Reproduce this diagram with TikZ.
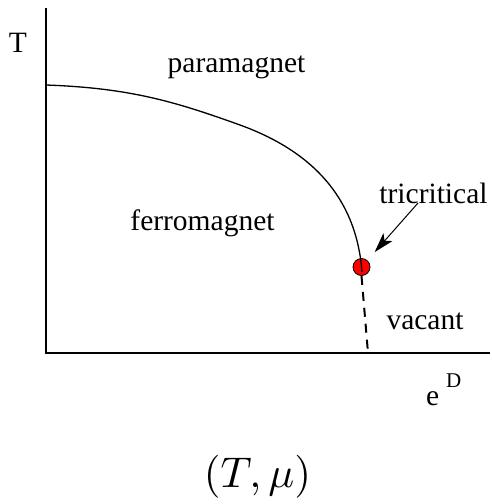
\documentclass[tikz,border=0pt]{standalone}
\usepackage{fontspec}
\setmainfont{Liberation Serif}
\usetikzlibrary{arrows.meta,positioning}

\begin{document}
\begin{tikzpicture}[x=1pt, y=-1pt,
    lbl/.style={font=\fontsize{29.5}{32}\selectfont, inner sep=0pt, anchor=base},
    axis/.style={line width=1.5pt},
    dot/.style={circle, draw, fill=red, line width=0.8pt, minimum size=17pt, inner sep=0pt}
]
    \useasboundingbox (0,0) rectangle (492,504);

    % Axes
    \coordinate (top) at (46,8);
    \coordinate (origin) at (46,353);
    \coordinate (right) at (490,353);
    \draw[axis] (top) -- (origin) -- (right);

    % Tricritical point
    \node[dot] (tc) at (361.5,267) {};
    \coordinate (foot) at (368,353);
    \draw[line width=2pt, dash pattern=on 9pt off 7pt] (tc.south) -- (foot);

    % Transition line
    \draw[line width=1.3pt] (46,85) .. controls (130,88) and (175,101.6) .. (240,125)
        .. controls (320,154) and (357,205) .. (362,272);

    % Labels
    \node[lbl] (T) at (18,52) {T};
    \node[lbl] (para) at (236.5,72) {paramagnet};
    \node[lbl] (ferro) at (202.5,230) {ferromagnet};
    \node[lbl] (tri) at (433.5,203) {tricritical};
    \node[lbl] (vac) at (425,329) {vacant};
    \node[lbl, anchor=base west] (e) at (426,405) {e};
    \node[font=\fontsize{21}{23}\selectfont, inner sep=0pt, anchor=base west] (D) at (446,387) {D};
    \node[inner sep=0pt, anchor=base] (pair) at (257.5,487) {\scalebox{4.3}{$(T,\mu)$}};

    % Arrow to the point
    \coordinate (tail) at (418,203);
    \draw[line width=1pt, -{Stealth[length=20pt, width=12pt, inset=5pt]}, shorten >=11pt] (tail) -- (tc);
\end{tikzpicture}
\end{document}
